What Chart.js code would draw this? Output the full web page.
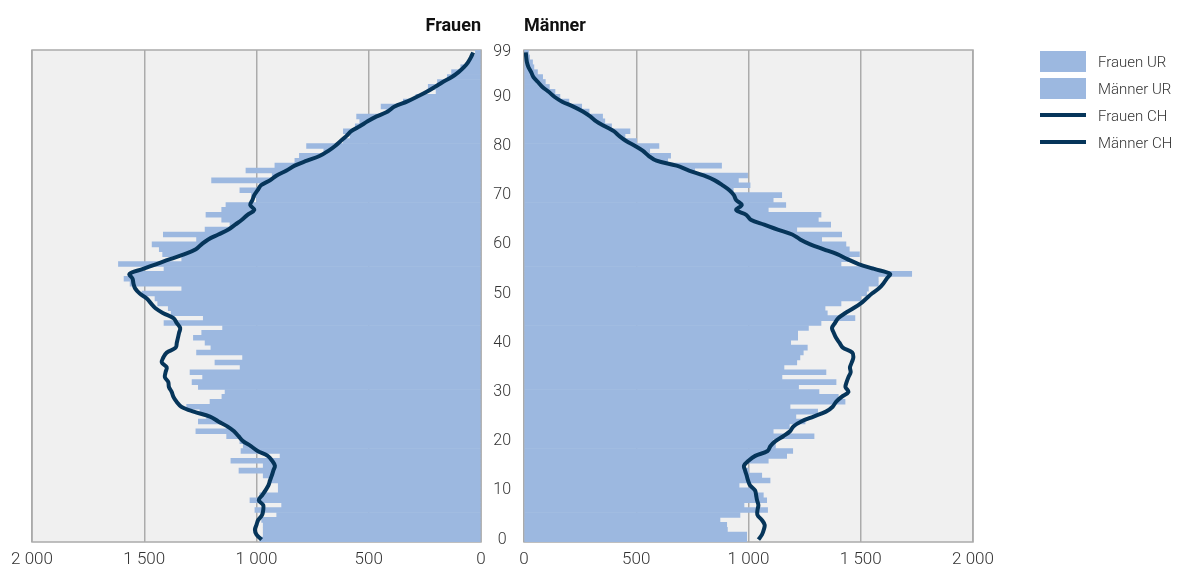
<!DOCTYPE html>
<html lang="de">
<head>
<meta charset="utf-8">
<title>Bevölkerungspyramide UR / CH</title>
<script src="https://cdn.jsdelivr.net/npm/chart.js@4.4.1/dist/chart.umd.min.js"></script>
<style>
  html, body { margin: 0; padding: 0; background: #ffffff; }
  body { position: relative; width: 1184px; height: 569px; overflow: hidden; font-family: Roboto, "Noto Sans", sans-serif; }
  #frauen { position: absolute; left: 0; top: 0; }
  #maenner { position: absolute; left: 492px; top: 0; }
  .legend { position: absolute; left: 1040px; top: 51px; }
  .legend .item { position: absolute; left: 0; height: 21px; display: flex; align-items: center; white-space: nowrap;
                  font-size: 15px; font-weight: 300; color: #333333; }
  .legend .box { width: 46px; height: 21px; background: #9cb8e0; margin-right: 12px; }
  .legend .line { width: 46px; height: 4px; background: #06355a; margin: 8px 12px 9px 0; }
</style>
</head>
<body>
<canvas id="frauen" width="492" height="569"></canvas>
<canvas id="maenner" width="692" height="569"></canvas>
<div class="legend">
  <div class="item" style="top:0px"><span class="box"></span>Frauen UR</div>
  <div class="item" style="top:27px"><span class="box"></span>Männer UR</div>
  <div class="item" style="top:54px"><span class="line"></span>Frauen CH</div>
  <div class="item" style="top:81px"><span class="line"></span>Männer CH</div>
</div>
<script>
// Alter 0 bis 99
const ages = Array.from({ length: 100 }, (_, i) => i);
const ageTicks = [0, 10, 20, 30, 40, 50, 60, 70, 80, 90, 99];
const valueTicks = [0, 500, 1000, 1500, 2000];

// Kanton Uri, Personen je Altersjahr (Alter 0 .. 99)
const frauenUR = [
  985, 970, 970, 970, 977, 910, 1007, 888, 1029, 985,
  903, 903, 940, 970, 1078, 970, 1114, 895, 1069, 1059,
  1074, 1133, 1270, 1133, 1259, 1222, 1252, 1311, 1207, 1154,
  1140, 1259, 1287, 1240, 1296, 1073, 1185, 1062, 1267, 1203,
  1229, 1281, 1244, 1151, 1412, 1237, 1380, 1393, 1440, 1452,
  1510, 1333, 1563, 1590, 1560, 1412, 1615, 1333, 1418, 1433,
  1465, 1267, 1415, 1229, 1118, 1155, 1225, 1155, 1136, 1000,
  1022, 1074, 985, 1200, 930, 1047, 918, 829, 809, 700,
  777, 613, 583, 613, 560, 540, 554, 420, 445, 346,
  290, 200, 235, 194, 150, 131, 90, 55, 40, 25
];
const maennerUR = [
  992, 992, 906, 903, 873, 962, 1085, 980, 1081, 1066,
  1022, 958, 1096, 1059, 1000, 985, 1088, 1170, 1197, 1120,
  1110, 1292, 1110, 1182, 1252, 1211, 1308, 1185, 1430, 1400,
  1314, 1223, 1390, 1149, 1345, 1158, 1215, 1229, 1244, 1262,
  1188, 1219, 1219, 1267, 1323, 1474, 1351, 1341, 1412, 1500,
  1526, 1534, 1578, 1578, 1727, 1556, 1412, 1449, 1494, 1449,
  1434, 1326, 1415, 1215, 1366, 1311, 1323, 1088, 1166, 1110,
  1148, 932, 1007, 955, 996, 760, 880, 640, 653, 560,
  601, 502, 450, 472, 390, 360, 350, 290, 257, 200,
  160, 138, 113, 95, 83, 60, 44, 38, 25, 20
];

// Schweiz, auf die Bevölkerungsgrösse von Uri umgerechnet
const frauenCH = [
  977, 1000, 1007, 1000, 992, 975, 970, 970, 990, 975,
  960, 947, 940, 932, 925, 918, 930, 950, 995, 1025,
  1060, 1080, 1100, 1130, 1170, 1207, 1280, 1335, 1356, 1370,
  1378, 1390, 1393, 1408, 1405, 1400, 1422, 1415, 1400, 1360,
  1355, 1350, 1345, 1340, 1355, 1370, 1415, 1450, 1470, 1489,
  1520, 1540, 1548, 1552, 1566, 1505, 1445, 1385, 1320, 1270,
  1245, 1215, 1170, 1125, 1095, 1065, 1040, 1010, 1028, 1018,
  1010, 995, 980, 940, 910, 866, 830, 775, 717, 680,
  650, 625, 600, 578, 540, 505, 465, 415, 385, 330,
  285, 242, 205, 170, 130, 100, 76, 58, 45, 35
];
const maennerCH = [
  1044, 1060, 1068, 1072, 1059, 1040, 1040, 1044, 1038, 1034,
  1029, 1007, 998, 992, 985, 980, 1000, 1030, 1085, 1098,
  1120, 1155, 1185, 1200, 1235, 1290, 1345, 1375, 1390, 1415,
  1445, 1432, 1437, 1445, 1455, 1452, 1460, 1467, 1462, 1420,
  1405, 1390, 1380, 1372, 1385, 1400, 1430, 1467, 1500, 1525,
  1550, 1580, 1600, 1615, 1630, 1560, 1490, 1440, 1395, 1335,
  1275, 1230, 1195, 1130, 1070, 1010, 990, 945, 970, 945,
  935, 915, 885, 850, 800, 735, 680, 590, 555, 530,
  495, 455, 425, 400, 360, 322, 295, 262, 220, 170,
  135, 110, 82, 62, 42, 32, 20, 13, 10, 8
];

const BAR_COLOR = '#9cb8e0';
const LINE_COLOR = '#06355a';
const GRID_COLOR = '#ababab';
const PLOT_BG = '#f0f0f0';
const TEXT_COLOR = '#333333';

// Tausender mit Leerzeichen: 1 500, 2 000
function formatValue(v) {
  return String(v).replace(/\B(?=(\d{3})+(?!\d))/g, ' ');
}

// Grauer Hintergrund und Rahmen der Zeichenfläche
const panelFrame = {
  id: 'panelFrame',
  beforeDraw(chart) {
    const a = chart.chartArea, ctx = chart.ctx;
    ctx.save();
    ctx.fillStyle = PLOT_BG;
    ctx.fillRect(a.left, a.top, a.right - a.left, a.bottom - a.top);
    ctx.restore();
  },
  beforeDatasetsDraw(chart) {
    const a = chart.chartArea, ctx = chart.ctx;
    ctx.save();
    ctx.strokeStyle = GRID_COLOR;
    ctx.lineWidth = 1.5;
    ctx.strokeRect(a.left, a.top, a.right - a.left, a.bottom - a.top);
    ctx.restore();
  }
};

function buildPyramidSide(canvasId, side, title, urLabel, urValues, chLabel, chValues) {
  const isLeft = side === 'left';
  return new Chart(document.getElementById(canvasId), {
    type: 'bar',
    data: {
      labels: ages,
      datasets: [
        {
          type: 'line',
          label: chLabel,
          data: chValues,
          indexAxis: 'y',
          borderColor: LINE_COLOR,
          borderWidth: 4,
          pointRadius: 0,
          tension: 0.35,
          fill: false,
          order: 0
        },
        {
          type: 'bar',
          label: urLabel,
          data: urValues,
          backgroundColor: BAR_COLOR,
          borderWidth: 0,
          barPercentage: 1,
          categoryPercentage: 1,
          order: 1
        }
      ]
    },
    options: {
      indexAxis: 'y',
      responsive: false,
      animation: false,
      events: [],
      layout: {
        padding: isLeft ? { left: 32, right: 11, top: 0, bottom: 0 }
                        : { left: 0, right: 211, top: 0, bottom: 0 }
      },
      plugins: {
        legend: { display: false },
        tooltip: { enabled: false },
        title: {
          display: true,
          text: title,
          align: isLeft ? 'end' : 'start',
          fullSize: false,
          color: '#111111',
          font: { family: 'Roboto', size: 18, weight: 'bold' },
          padding: { top: 16, bottom: 12.4 }
        }
      },
      scales: {
        x: {
          type: 'linear',
          min: valueTicks[0],
          max: valueTicks[valueTicks.length - 1],
          reverse: isLeft,
          afterFit(scale) {
            scale.height = 27;
            scale.paddingLeft = 0;
            scale.paddingRight = 0;
          },
          afterBuildTicks(scale) { scale.ticks = valueTicks.map(v => ({ value: v })); },
          ticks: {
            padding: 8,
            color: TEXT_COLOR,
            font: { family: 'Roboto', size: 17, weight: '300' },
            callback: v => formatValue(v)
          },
          grid: { color: GRID_COLOR, lineWidth: 1.5, drawTicks: false },
          border: { display: false }
        },
        y: {
          type: 'category',
          reverse: true,
          display: !isLeft,
          position: 'left',
          // Altersachse nur zwischen den beiden Hälften, links ohne Breite
          afterFit(scale) { scale.width = isLeft ? 0 : 32; },
          ticks: {
            autoSkip: false,
            padding: 13,
            crossAlign: 'center',
            color: TEXT_COLOR,
            font: { family: 'Roboto', size: 16, weight: '300' },
            callback: (value, index) => ageTicks.includes(ages[index]) ? String(ages[index]) : ''
          },
          grid: { display: false, drawTicks: false },
          border: { display: false }
        }
      }
    },
    plugins: [panelFrame]
  });
}

buildPyramidSide('frauen', 'left', 'Frauen', 'Frauen UR', frauenUR, 'Frauen CH', frauenCH);
buildPyramidSide('maenner', 'right', 'Männer', 'Männer UR', maennerUR, 'Männer CH', maennerCH);
</script>
</body>
</html>
